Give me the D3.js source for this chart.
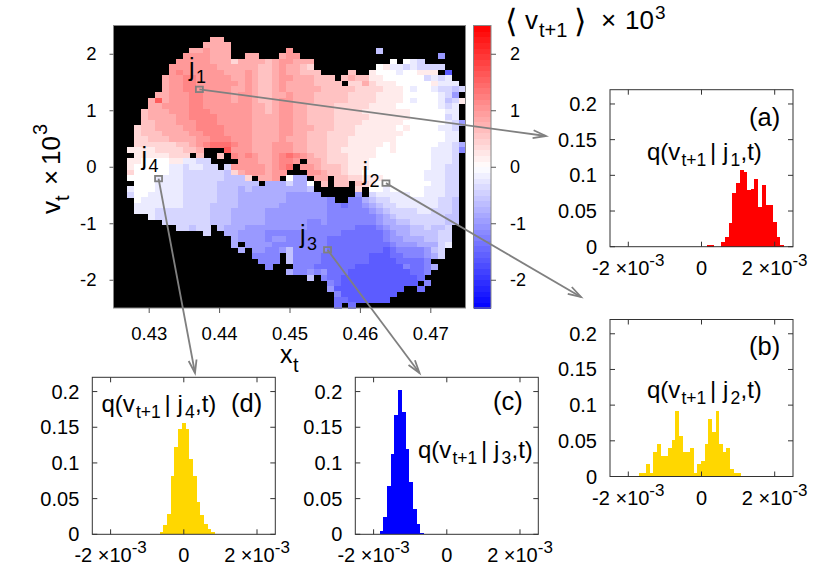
<!DOCTYPE html>
<html><head><meta charset="utf-8">
<script src="https://cdn.jsdelivr.net/npm/d3@7"></script>
<style>
html,body{margin:0;padding:0;background:#fff}
svg{display:block}
text{font-family:"Liberation Sans",Arial,sans-serif;fill:#000}
</style></head><body><svg id="c" width="822" height="576"></svg>
<script>
// Heat map: 51 x 51 cells, top row first. '.' = no data (black); letters are levels, m = 0, step 0.2
const B="..........";
const heatRows=[
[B,B,B,B,B,"."],
[B,B,B,B,B,"."],
[B,"....qq....",B,B,B,"."],
[B,"...qqqq...",B,B,B,"."],
[B,".qqrqqq...",".....r....","........j.",B,"."],
[B,"rrrrqqq..q","q...qrr...",B,".......h..","."],
[".........r","rrrrqqqoqq","qqpqrrqqq.",B,"m.mlk.....","."],
["........rr","rrrrrqqqqq","qppqrqqpo.","........mn","llklkkkk..","."],
["........rs","rrrrrrqqqr","qppqrqqppp","....p..nmm","mlmmnnn.e.","."],
[".......qrr","ssrrrrrqqr","qppqrrqqqp","pp.pqppnnm","mmmmmklkl.","."],
[".......qrr","ssrrrrrrqr","qppqrqqqqp","ppp.ooqonn","nmmmmmnlll","."],
[".......qrr","ssrrrrrqqr","qppqrqqqqq","pppppoooon","nnmlmmlkkj","k"],
["......qqrr","rssrrrrqrr","qppqqrqqqp","ppppoooonn","nnmmmmmlkh","."],
[".....quqrr","rssrrrrqrr","qppqrrqqqp","ppppoooonn","nnmlmmmljk","n"],
[".....qqrrr","rssrrrrrrr","qqpqrrqqpp","ppooooonnn","nmmmmmmlkl","."],
["....pqqqrr","rsssrrrrrr","qqpqrrqqpp","ppoooonnnn","nnnmmmmmll","."],
["....pqqqqr","rssssrrrrr","qqqqrrqqpp","ppooooonnn","nnnmmmmmkl","."],
["....ppqqqr","rrsssrrrrr","qqqqrrqqpp","ppoooonnnn","nnmmmmmmlk","h"],
["...oppqqqq","rrssssrrrr","qqqqrrqqqp","ppooonnnnn","nmnmmmmllk","."],
["...opppqqq","qrrsssrrrr","qqqqrrqqpp","poooonnnnn","nnmmmmmmll","."],
["...oopppqq","qqrrsssrrr","qqqqrqqqpp","pooonnnnnn","nmmmmmmmll","."],
["...oooooop","pqrstttsrr","qqqrrrqqpp","pooonnnnnm","nmmmmmmllk","i"],
["..nnnnoooo","ppq...urrr","qqqrrrqqpp","poonnnnnmm","nmmmmmlllk","g"],
["...nnnnnoo","o.p..p.srs","rqqrstsrqp","pooonnnnmm","mmmmmmlllk","."],
["..nnmmmmnn","llkk....rr","rqqrssr.qq","pooonnnmmm","mmmmmmlllk","."],
["..nmmmmmll","kllkk.krrr","rrqrst.rrq","ppponnnmmm","mmmmmmllkk","."],
["..ommmmmll","kkkkkkjoqr","rrqrr...rr","qpponnmmmm","mmmmmlllkk","."],
["..mmmmllll","kkkkkkjjjo",".qqr.mii.q","q.ppoonnnm","mmmmmlllkk","."],
["...mmmllll","kkkkkjjjjj","j.iiikiim.","p.pp.ponmm","mmmmmmllkk","."],
["..lmmmllll","kkkkkjjjij","iiiiiiiij.",".....o.mml","mmmmmlllkk","."],
["..kmmlllll","kkkkkjjjii","iiiiihhhhh",".....h.kll","lllmmlllkk","."],
["...mllllll","kkkkkjjjii","iiiiihhhhh","hg..ggijkk","lllllllkkj","."],
["...lllllll","kkkkjjjjii","iiiihhhhhh","hggfgghijk","kllllllkkj","."],
["...lllkkkk","kkkkjjjiii","iihhhhhhhh","hgggggghij","kkkkllkkkj","."],
[".....lkkkk","kkkkjjjiii","iihhhhhhhh","hggggggghi","jkkkkkkkjj","."],
[".......kkk","kkkkjjjiii","iihhhhhhgg","hggggggghi","ijjkkkkkjj","."],
[".........k","kjkk.jiiih","hhhhhhhhgg","gggggfffgh","iiijjkjjk.","."],
[B,"...k..iihh","hhgggggggg","gggffffffg","hiijjjjkk.","."],
[B,".......ihh","hhghhggggg","gffffffffg","hhiiijjkk.","."],
[B,".......i.h","hhhggggggg","gfffffffff","ghhhiiikl.","."],
[B,"........i.","hhgghjgggg","gffffffffe","fgggghjk..","."],
[B,B,"gggg.jgggg","fffffffeee","ffggghik..","."],
[B,B,".ggg.jgggg","fffffffeee","effffg....","."],
[B,B,"..g...gggf","fffffeeeee","eegffgi...","."],
[B,B,".....igghg","hfffeeeeee","eeeffg....","."],
[B,B,"........j.","gffeeeeeee","eeeef.....","."],
[B,B,B,".gfeeeeeee","eeee.g....","."],
[B,B,B,".heeeeeeee","ee..f.....","."],
[B,B,B,"..geeeeeee","e.........","."],
[B,B,B,"..ffeeeeee",B,"."],
[B,B,B,"..f.f.....",B,"."]
];
const levelStep=0.2, zeroLevel="m".charCodeAt(0);
const heatTicksX=[0.43,0.44,0.45,0.46,0.47];
const heatTicksY=[2,1,0,-1,-2];
const barTicks=[2,1,0,-1,-2];

// Histograms: probability per bin, bin width 1e-4 (in units of 1e-3: 0.1); first = left edge of first bin
const histA=[.002,.002,0,0,.006,.013,.033,.075,.089,.107,.105,.079,.081,.095,.056,.086,.058,.059,.035,.014,.003];
const firstA=0.146;
const histB=[.005,.005,.017,.005,.034,.046,.029,.029,.040,.051,.092,.057,.034,.034,.040,.005,.017,.022,.046,.081,.063,.092,.046,.034,.040,.011,.005,.005];
const firstB=-1.717;
const histC=[.004,.024,.068,.112,.167,.202,.172,.120,.073,.035,.015,.002];
const firstC=-1.83;
const histD=[.003,.013,.028,.082,.123,.148,.156,.148,.106,.082,.045,.027,.015,.007,.003,.001];
const firstD=-0.656;
const histTicksY=[0,0.05,0.1,0.15,0.2];
const histTicksX=[-2,0,2];

const svg=d3.select("#c");
const color=d3.scaleLinear().domain([-2.5,0,2.5]).range(["#0000ff","#ffffff","#ff0000"]);
const put=(sel,x,y,size,s)=>sel.append("text").attr("x",x).attr("y",y).attr("font-size",size).text(s);

// ---- heat map
const hm={l:113.5,r:465.5,t:25.5,b:308};
const hx=d3.scaleLinear().domain([0.425,0.475]).range([hm.l,hm.r]);
const hy=d3.scaleLinear().domain([-2.5,2.5]).range([hm.b,hm.t]);
const colBand=d3.scaleBand().domain(d3.range(51)).range([hm.l,hm.r]).padding(0);
const rowBand=d3.scaleBand().domain(d3.range(51)).range([hm.t,hm.b]).padding(0);
const cells=[];
heatRows.forEach((groups,i)=>{
  const s=groups.join("");
  for(let j=0;j<s.length;j++){
    if(s[j]!==".")cells.push({i,j,v:(s.charCodeAt(j)-zeroLevel)*levelStep});
  }
});
svg.append("rect").attr("x",hm.l).attr("y",hm.t).attr("width",hm.r-hm.l).attr("height",hm.b-hm.t).attr("fill","#000");
svg.append("g").attr("shape-rendering","crispEdges").selectAll("rect").data(cells).join("rect")
  .attr("x",d=>colBand(d.j)).attr("y",d=>rowBand(d.i))
  .attr("width",colBand.bandwidth()+0.5).attr("height",rowBand.bandwidth()+0.5)
  .attr("fill",d=>color(d.v));
svg.append("rect").attr("x",hm.l).attr("y",hm.t).attr("width",hm.r-hm.l).attr("height",hm.b-hm.t)
  .attr("fill","none").attr("stroke","#888").attr("stroke-width",1);
const gx=svg.append("g").attr("transform",`translate(0,${hm.b})`).call(d3.axisBottom(hx).tickValues(heatTicksX).tickSize(5).tickPadding(14).tickFormat(d3.format(".2f")));
const gy=svg.append("g").attr("transform",`translate(${hm.l},0)`).call(d3.axisLeft(hy).tickValues(heatTicksY).tickSize(4).tickPadding(13).tickFormat(String));
[gx,gy].forEach(g=>{g.select(".domain").remove();g.selectAll("line").attr("stroke","#555");g.selectAll("text").attr("font-size",18.5).attr("font-family",'"Liberation Sans"').attr("fill","#000");});
put(svg,280,363,25,"x");
put(svg,293,372,20,"t");
const yl=svg.append("g").attr("transform","translate(60,214) rotate(-90)");
put(yl,0,0,26,"v");
put(yl,13,9,20,"t");
put(yl,29,0,26,"×");
put(yl,49,0,26,"10");
put(yl,79,-13,20,"3");

// ---- colour bar
const cb={l:473.5,r:491,t:25.5,b:308};
const cy=d3.scaleLinear().domain([-2.5,2.5]).range([cb.b,cb.t]);
const bandLevels=d3.range(-2.5,2.5,0.1);
svg.append("g").attr("shape-rendering","crispEdges").selectAll("rect").data(bandLevels).join("rect")
  .attr("x",cb.l).attr("width",cb.r-cb.l).attr("y",d=>cy(d+0.1)).attr("height",d=>cy(d)-cy(d+0.1)+0.6)
  .attr("fill",d=>color(d+0.05));
svg.append("rect").attr("x",cb.l).attr("y",cb.t).attr("width",cb.r-cb.l).attr("height",cb.b-cb.t)
  .attr("fill","none").attr("stroke","#888");
const gb=svg.append("g").attr("transform",`translate(${cb.r},0)`).call(d3.axisRight(cy).tickValues(barTicks).tickSize(5).tickPadding(14).tickFormat(String));
gb.select(".domain").remove();gb.selectAll("line").attr("stroke","#555");
gb.selectAll("text").attr("font-size",18).attr("font-family",'"Liberation Sans"').attr("fill","#000");
// colour-bar title
put(svg,505,32,32,"⟨");
put(svg,525,29,26,"v");
put(svg,539,37,20,"t+1");
put(svg,574,32,32,"⟩");
put(svg,601,29,26,"×");
put(svg,625,29,26,"10");
put(svg,655,19,19,"3");

// ---- histogram panels
const panels=[
 {hist:histA,first:firstA,fill:"#ff0000",l:610,t:89.7,tag:"(a)",tx:749,ty:126,qx:647,qy:160,n:"1"},
 {hist:histB,first:firstB,fill:"#ffd700",l:610,t:319.5,tag:"(b)",tx:749,ty:355,qx:647,qy:398,n:"2"},
 {hist:histC,first:firstC,fill:"#0000ff",l:355.3,t:377.3,tag:"(c)",tx:493,ty:410,qx:418,qy:458,n:"3"},
 {hist:histD,first:firstD,fill:"#ffd700",l:92.3,t:377.3,tag:"(d)",tx:231,ty:412,qx:101.5,qy:412,n:"4"}
];
const pw=183,ph=157;
panels.forEach(p=>{
  const g=svg.append("g").attr("transform",`translate(${p.l},${p.t})`);
  const x=d3.scaleLinear().domain([-2.5,2.5]).range([0,pw]);
  const y=d3.scaleLinear().domain([0,0.22]).range([ph,0]);
  const w=x(0.1)-x(0);
  g.append("g").attr("shape-rendering","crispEdges").selectAll("rect").data(p.hist).join("rect")
    .attr("x",(d,i)=>x(p.first+i*0.1)).attr("width",w+0.3)
    .attr("y",d=>y(d)).attr("height",d=>ph-y(d)).attr("fill",p.fill);
  g.append("rect").attr("width",pw).attr("height",ph).attr("fill","none").attr("stroke","#333");
  const tick=g.append("g").attr("stroke","#333");
  histTicksX.forEach(v=>{
    tick.append("line").attr("x1",x(v)).attr("x2",x(v)).attr("y1",ph).attr("y2",ph-5);
    tick.append("line").attr("x1",x(v)).attr("x2",x(v)).attr("y1",0).attr("y2",5);
  });
  histTicksY.forEach(v=>{
    tick.append("line").attr("x1",0).attr("x2",5).attr("y1",y(v)).attr("y2",y(v));
    tick.append("line").attr("x1",pw).attr("x2",pw-5).attr("y1",y(v)).attr("y2",y(v));
    g.append("text").attr("x",-13).attr("y",y(v)+7).attr("text-anchor","end").attr("font-size",20).text(String(v));
  });
  histTicksX.forEach(v=>{
    if(v===0){g.append("text").attr("x",x(0)).attr("y",ph+28).attr("text-anchor","middle").attr("font-size",20).text("0");}
    else{
      const t=g.append("text").attr("x",x(v)).attr("y",ph+28).attr("text-anchor","middle").attr("font-size",20);
      t.append("tspan").text(v+" ×10");
      t.append("tspan").attr("dy",-9).attr("font-size",17).text("-3");
    }
  });
});
panels.forEach(p=>{
  put(svg,p.tx,p.ty,25.5,p.tag);
  put(svg,p.qx,p.qy,24,"q(v");
  put(svg,p.qx+34.5,p.qy+6,17.5,"t+1");
  put(svg,p.qx+63,p.qy,24,"|");
  put(svg,p.qx+76,p.qy,24,"j");
  put(svg,p.qx+83.5,p.qy+6,17.5,p.n);
  put(svg,p.qx+93.5,p.qy,24,",t)");
});

// ---- annotations
const links=[
 {n:"1",sx:0.4372,sv:1.37,ex:546,ey:136,lx:189,ly:76},
 {n:"2",sx:0.4637,sv:-0.29,ex:581,ey:297,lx:362.5,ly:180},
 {n:"3",sx:0.4554,sv:-1.47,ex:419.5,ey:373,lx:300,ly:243},
 {n:"4",sx:0.4314,sv:-0.21,ex:195,ey:373,lx:141.5,ly:165}
];
links.forEach(a=>{
  const sx=hx(a.sx),sy=hy(a.sv);
  const dx=a.ex-sx,dy=a.ey-sy,len=Math.hypot(dx,dy),ux=dx/len,uy=dy/len;
  const g=svg.append("g").attr("stroke","#808080").attr("fill","none").attr("stroke-width",1.8);
  g.append("line").attr("x1",sx).attr("y1",sy).attr("x2",a.ex).attr("y2",a.ey);
  const hl=13,hw=4;
  g.append("polyline").attr("points",[
    [a.ex-ux*hl-uy*hw,a.ey-uy*hl+ux*hw],[a.ex,a.ey],[a.ex-ux*hl+uy*hw,a.ey-uy*hl-ux*hw]
  ].map(q=>q.join(",")).join(" "));
  g.append("rect").attr("x",sx-3.5).attr("y",sy-2.7).attr("width",7).attr("height",5.4);
  put(svg,a.lx,a.ly,25,"j");
  put(svg,a.lx+7,a.ly+6.5,18,a.n);
});
</script></body></html>
